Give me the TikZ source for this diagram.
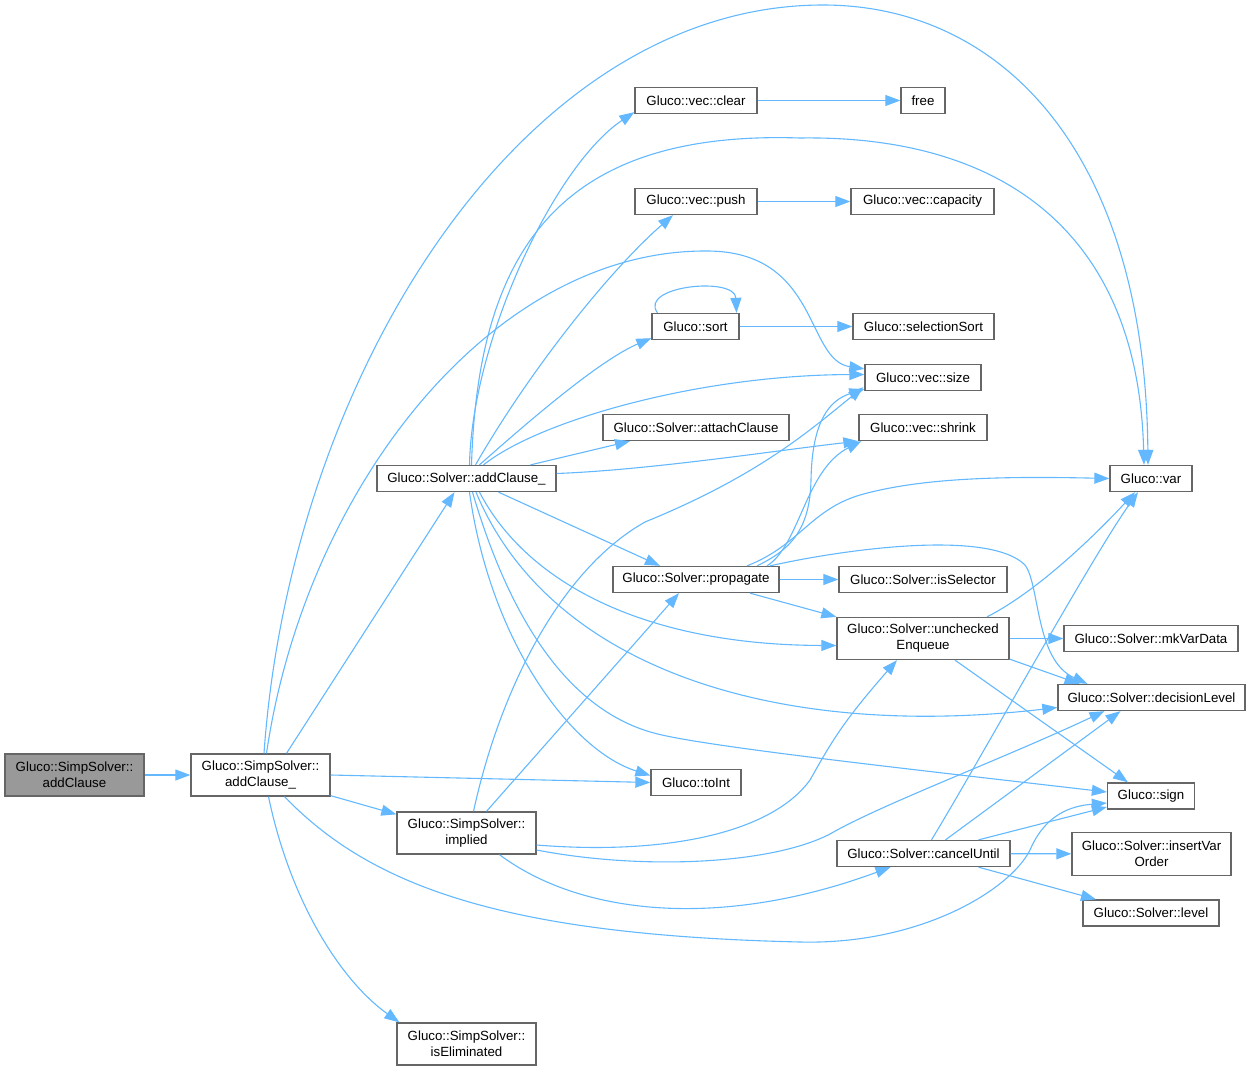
\documentclass[tikz,border=0pt]{standalone}
\usepackage{fontspec}
\setmainfont{Liberation Sans}
\usetikzlibrary{arrows.meta}
\definecolor{edgeblue}{HTML}{63B8FF}
\definecolor{boxgray}{HTML}{666666}
\definecolor{rootgray}{HTML}{999999}
\tikzset{
  box/.style={draw=boxgray, line width=1.3pt, fill=white, inner sep=0pt, align=center,
    font=\fontsize{13.3}{16}\selectfont},
  edge/.style={draw=edgeblue, line width=1.1pt, -{Triangle[length=15pt,width=11pt]}},
}
\begin{document}
\begin{tikzpicture}[x=1pt,y=-1pt]
\useasboundingbox (0,0) rectangle (1251,1071);
% nodes
\node[box, fill=rootgray, minimum width=139pt, minimum height=42pt] (root) at (74.5,775) {Gluco::SimpSolver::\\addClause};
\node[box, minimum width=139pt, minimum height=42pt] (sac) at (260.5,775) {Gluco::SimpSolver::\\addClause\_};
\node[box, minimum width=179pt, minimum height=26pt] (solac) at (466.5,478.5) {Gluco::Solver::addClause\_};
\node[box, minimum width=139pt, minimum height=42pt] (impl) at (466.5,833) {Gluco::SimpSolver::\\implied};
\node[box, minimum width=139pt, minimum height=42pt] (iselim) at (466.5,1044) {Gluco::SimpSolver::\\isEliminated};
\node[box, minimum width=122pt, minimum height=26pt] (clear) at (696,100.5) {Gluco::vec::clear};
\node[box, minimum width=44pt, minimum height=26pt] (free) at (923,100.5) {free};
\node[box, minimum width=122pt, minimum height=26pt] (push) at (696,201.5) {Gluco::vec::push};
\node[box, minimum width=143pt, minimum height=26pt] (capacity) at (922.5,201.5) {Gluco::vec::capacity};
\node[box, minimum width=87pt, minimum height=26pt] (sort) at (695.5,326.5) {Gluco::sort};
\node[box, minimum width=141pt, minimum height=26pt] (selsort) at (923.5,326.5) {Gluco::selectionSort};
\node[box, minimum width=116pt, minimum height=26pt] (size) at (923,377.5) {Gluco::vec::size};
\node[box, minimum width=186pt, minimum height=26pt] (attach) at (696,427.5) {Gluco::Solver::attachClause};
\node[box, minimum width=128pt, minimum height=26pt] (shrink) at (923,427.5) {Gluco::vec::shrink};
\node[box, minimum width=166pt, minimum height=26pt] (prop) at (696,579.5) {Gluco::Solver::propagate};
\node[box, minimum width=168pt, minimum height=26pt] (issel) at (923,579.5) {Gluco::Solver::isSelector};
\node[box, minimum width=172pt, minimum height=42pt] (uenq) at (923,638.5) {Gluco::Solver::unchecked\\Enqueue};
\node[box, minimum width=90pt, minimum height=26pt] (toint) at (696,782.5) {Gluco::toInt};
\node[box, minimum width=173pt, minimum height=26pt] (cancel) at (923.5,853.5) {Gluco::Solver::cancelUntil};
\node[box, minimum width=82pt, minimum height=26pt] (var) at (1151,478.5) {Gluco::var};
\node[box, minimum width=174pt, minimum height=26pt] (mkvd) at (1151,638.5) {Gluco::Solver::mkVarData};
\node[box, minimum width=187pt, minimum height=26pt] (declev) at (1151.5,697.5) {Gluco::Solver::decisionLevel};
\node[box, minimum width=87pt, minimum height=26pt] (sign) at (1151,796) {Gluco::sign};
\node[box, minimum width=159pt, minimum height=43pt] (ivo) at (1151.5,854) {Gluco::Solver::insertVar\\Order};
\node[box, minimum width=136pt, minimum height=26pt] (level) at (1151,913) {Gluco::Solver::level};
% edges from root / SimpSolver::addClause_
\draw[edge] (root) -- (sac);
\draw[edge] ([xshift=26pt]sac.north) -- ([xshift=-12pt]solac.south);
\draw[edge] ([xshift=3.5pt]sac.north) .. controls (290,380) and (520,5) .. (823,5) .. controls (1000,5) and (1145,150) .. ([xshift=-3pt]var.north);
\draw[edge] ([xshift=6pt]sac.north) .. controls (305,490) and (490,251) .. (705,251) .. controls (820,250) and (805,360) .. ([yshift=-5pt]size.north west);
\draw[edge] (sac.east) -- (toint.west);
\draw[edge] ([yshift=1pt]sac.south east) -- ([yshift=-3pt]impl.north west);
\draw[edge] ([xshift=24pt]sac.south) .. controls (370,885) and (500,935) .. (800,942) .. controls (920,945) and (1010,890) .. (1030,850) .. controls (1045,815) and (1070,806) .. ([yshift=-7pt]sign.west);
\draw[edge] ([xshift=8pt]sac.south) .. controls (290,900) and (340,980) .. ([xshift=3pt]iselim.north west);
% edges from Solver::addClause_
\draw[edge] ([xshift=3pt]solac.north) .. controls (472,340) and (555,165) .. ([yshift=2pt]clear.south west);
\draw[edge] ([xshift=5pt]solac.north) .. controls (478,250) and (560,130) .. (800,138) .. controls (1000,135) and (1138,230) .. ([xshift=-7pt]var.north);
\draw[edge] ([xshift=9pt]solac.north) .. controls (530,370) and (610,270) .. ([xshift=-23pt]push.south);
\draw[edge] ([xshift=13pt]solac.north) .. controls (530,420) and (600,360) .. ([yshift=2pt]sort.south west);
\draw[edge] ([xshift=17pt]solac.north) .. controls (540,420) and (700,375) .. ([yshift=3pt]size.west);
\draw[edge] ([xshift=64pt]solac.north) -- ([xshift=-66pt]attach.south);
\draw[edge] ([yshift=5pt]solac.east) .. controls (650,470) and (780,450) .. (shrink.south west);
\draw[edge] ([xshift=32pt]solac.south) -- ([xshift=-36pt]prop.north);
\draw[edge] ([xshift=13pt]solac.south) .. controls (525,580) and (640,645) .. ([yshift=-7pt]uenq.west);
\draw[edge] ([xshift=9.5pt]solac.south) .. controls (550,670) and (780,740) .. ([yshift=-10pt]declev.west);
\draw[edge] ([xshift=6pt]solac.south) .. controls (510,620) and (570,715) .. (662,735) .. controls (720,748) and (900,768) .. ([yshift=4pt]sign.west);
\draw[edge] ([xshift=3pt]solac.south) .. controls (490,640) and (570,750) .. ([yshift=7pt]toint.west);
% sort, clear, push
\draw[edge] ([xshift=-38pt]sort.north) .. controls (638,286) and (735,276) .. ([xshift=41pt]sort.north);
\draw[edge] (sort) -- (selsort);
\draw[edge] (clear) -- (free);
\draw[edge] (push) -- (capacity);
% propagate
\draw[edge] ([xshift=61pt]prop.north) .. controls (790,550) and (810,530) .. (811,480) .. controls (812,420) and (830,400) .. ([yshift=2pt]size.south west);
\draw[edge] ([xshift=71pt]prop.north) .. controls (800,545) and (805,470) .. ([xshift=3pt]shrink.south west);
\draw[edge] ([xshift=51pt]prop.north) .. controls (800,545) and (810,510) .. (860,495) .. controls (920,478) and (1000,476) .. (var.west);
\draw[edge] (prop) -- (issel);
\draw[edge] ([xshift=54pt]prop.south) -- (uenq.north west);
\draw[edge] ([xshift=74pt]prop.north) .. controls (850,548) and (990,530) .. (1025,565) .. controls (1040,585) and (1035,660) .. ([xshift=-64pt]declev.north);
% uncheckedEnqueue
\draw[edge] ([xshift=64pt]uenq.north) .. controls (1040,590) and (1100,530) .. ([xshift=-16pt]var.south);
\draw[edge] (uenq) -- (mkvd);
\draw[edge] ([yshift=1pt]uenq.south east) -- ([xshift=-72pt]declev.north);
\draw[edge] ([xshift=32pt]uenq.south) -- ([xshift=-23pt]sign.north);
% implied
\draw[edge] ([xshift=7pt]impl.north) .. controls (500,690) and (560,570) .. (645,522) .. controls (760,475) and (810,430) .. ([xshift=-1pt,yshift=4pt]size.south west);
\draw[edge] ([xshift=20pt]impl.north) -- ([xshift=-17pt]prop.south);
\draw[edge] ([yshift=-12pt]impl.east) .. controls (660,855) and (770,835) .. (810,780) .. controls (830,745) and (840,725) .. ([xshift=-26pt]uenq.south);
\draw[edge] ([yshift=-17pt]impl.east) .. controls (640,870) and (770,865) .. (830,834) .. controls (880,805) and (1000,760) .. ([xshift=-47pt]declev.south);
\draw[edge] ([xshift=33pt]impl.south) .. controls (580,915) and (720,930) .. ([xshift=-33pt]cancel.south);
% cancelUntil
\draw[edge] ([xshift=8pt]cancel.north) .. controls (980,760) and (1090,560) .. ([xshift=-13pt]var.south);
\draw[edge] ([xshift=22pt]cancel.north) -- ([xshift=-31pt]declev.south);
\draw[edge] ([xshift=55pt]cancel.north) -- ([yshift=-11pt]sign.west);
\draw[edge] (cancel) -- (ivo);
\draw[edge] ([xshift=55pt]cancel.south) -- ([xshift=-55pt]level.north);
\end{tikzpicture}
\end{document}
